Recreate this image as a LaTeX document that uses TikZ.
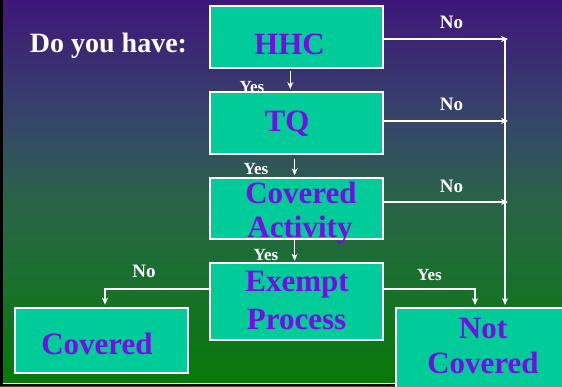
\documentclass[tikz,border=0pt]{standalone}
\usepackage{fontspec}
\setmainfont{Liberation Serif}
\usetikzlibrary{arrows.meta}
\definecolor{boxfill}{RGB}{0,204,153}
\definecolor{txtpurple}{RGB}{120,10,232}
\definecolor{bgtop}{RGB}{62,22,122}
\definecolor{bgmidA}{RGB}{53,72,104}
\definecolor{bgmidB}{RGB}{42,98,72}
\definecolor{bgmidC}{RGB}{28,110,50}
\definecolor{bgbot}{RGB}{6,122,6}
\pgfdeclareverticalshading{bgshade}{100bp}{color(0bp)=(bgbot); color(25bp)=(bgbot); color(40.5bp)=(bgmidC); color(49.5bp)=(bgmidB); color(58.5bp)=(bgmidA); color(75bp)=(bgtop); color(100bp)=(bgtop)}
\tikzset{
  box/.style={draw=white, line width=2pt, fill=boxfill, inner sep=0pt},
  boxtxt/.style={anchor=base, inner sep=0pt, text=txtpurple, font=\fontsize{31}{34}\selectfont\bfseries},
  notxt/.style={anchor=base, inner sep=0pt, text=white, font=\fontsize{19}{22}\selectfont\bfseries},
  yestxt/.style={anchor=base, inner sep=0pt, text=white, font=\fontsize{17}{19}\selectfont\bfseries},
  arr/.style={draw=white, line width=1.6pt, -{Stealth[length=7pt,width=6pt]}},
}
\begin{document}
\begin{tikzpicture}[x=1pt,y=-1pt]
\useasboundingbox (0,0) rectangle (562,386);
\clip (0,0) rectangle (562,386);
% background
\shade[shading=bgshade] (0,0) rectangle (562,386);
\fill[black] (0,0) rectangle (2.7,386);
\fill[black] (0,384) rectangle (562,386);
\draw[white, line width=1pt] (2.7,383) -- (562,383);

% Yes labels (partly hidden behind boxes)
\node[yestxt] (yes1) at (252,92) {Yes};
\node[yestxt] (yes2) at (256,174) {Yes};
\node[yestxt] (yes3) at (266,260) {Yes};
\node[yestxt] (yes4) at (429.5,280) {Yes};

% No labels
\node[notxt] (no1) at (451.5,28) {No};
\node[notxt] (no2) at (451.5,110) {No};
\node[notxt] (no3) at (451.5,192) {No};
\node[notxt] (no4) at (144,277.7) {No};

% Do you have
\node[anchor=base, inner sep=0pt, text=white, font=\fontsize{28}{32}\selectfont\bfseries] (ask) at (108.5,52.5) {Do you have:};

% boxes
\node[box, minimum width=173pt, minimum height=62.6pt] (hhc) at (296.2,37) {};
\node[box, minimum width=173pt, minimum height=62pt] (tq) at (296.2,123) {};
\node[box, minimum width=173pt, minimum height=61.3pt] (ca) at (296.2,208.4) {};
\node[box, minimum width=173pt, minimum height=76.7pt] (ep) at (296.2,301.6) {};
\node[box, minimum width=172.8pt, minimum height=65.3pt] (cov) at (101.8,340.3) {};
\node[box, minimum width=204pt, minimum height=112pt] (nc) at (498,364) {};

% coordinates for connectors
\coordinate (xa) at (290.3,0);
\coordinate (xb) at (294.6,0);
\coordinate (n1) at (508,39);
\coordinate (n2) at (508,121);
\coordinate (n3) at (508,202);
\coordinate (vtop) at (505,39);
\coordinate (lc) at (105,289);
\coordinate (rc) at (475,289);

% vertical Yes arrows
\draw[arr, shorten <=2pt, shorten >=2pt] (hhc.south -| xa) -- (tq.north -| xa);
\draw[arr, shorten <=4pt, shorten >=1.5pt] (tq.south -| xb) -- (ca.north -| xb);
\draw[arr, shorten >=1.5pt] (ca.south -| xb) -- (ep.north -| xb);

% No arrows to the right
\draw[arr] (hhc.east |- n1) -- (n1);
\draw[arr] (tq.east |- n2) -- (n2);
\draw[arr] (ca.east |- n3) -- (n3);
\draw[arr, shorten >=2pt] (vtop) -- (nc.north -| vtop);

% Exempt process branches
\draw[arr, shorten >=2pt] (ep.west |- lc) -- (lc) -- (cov.north -| lc);
\draw[arr, shorten >=2pt] (ep.east |- rc) -- (rc) -- (nc.north -| rc);

% box texts
\node[boxtxt] (thhc) at (289.5,54) {HHC};
\node[boxtxt] (ttq) at (287,131) {TQ};
\node[boxtxt] (tca1) at (301,203) {Covered};
\node[boxtxt] (tca2) at (300,237) {Activity};
\node[boxtxt] (tep1) at (297,291) {Exempt};
\node[boxtxt] (tep2) at (296.6,329) {Process};
\node[boxtxt] (tcov) at (97,354) {Covered};
\node[boxtxt] (tnc1) at (483,338) {Not};
\node[boxtxt] (tnc2) at (483,373) {Covered};
\end{tikzpicture}
\end{document}
